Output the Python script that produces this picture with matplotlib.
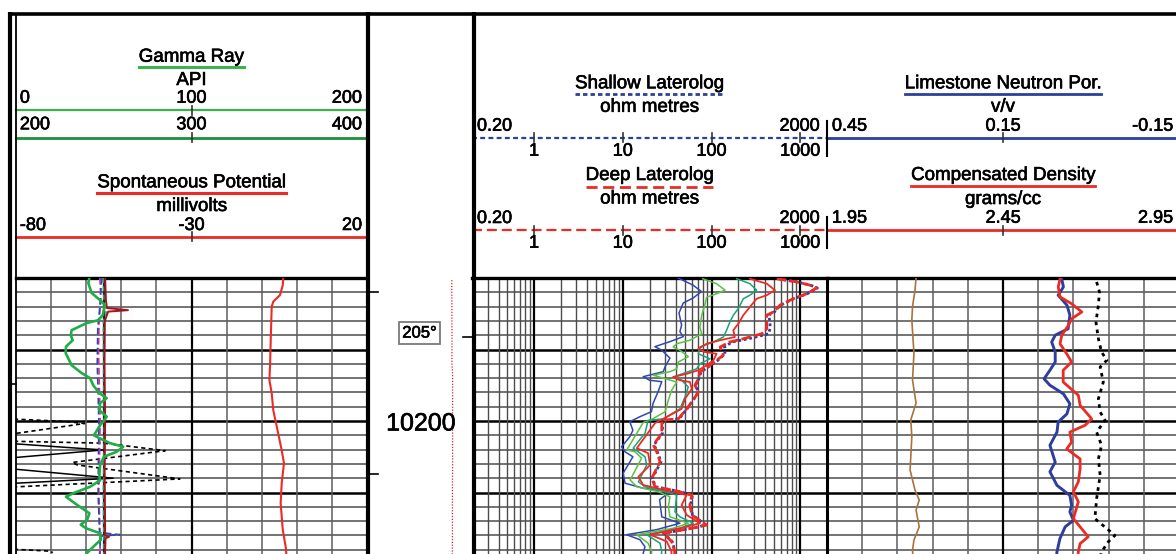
import numpy as np
import matplotlib
matplotlib.use("Agg")
import matplotlib.pyplot as plt
import matplotlib.patheffects as pe
from matplotlib.transforms import blended_transform_factory as blend

plt.rcParams['font.family'] = ['Liberation Sans', 'DejaVu Sans']

# ------------------------------------------------------------------ depth range
TOP_DEPTH = 10180.0
BASE_DEPTH = 10220.0
DEPTH_LABELS = [10200]
DEPTH_MARKS_LEFT = [10182.0, 10207.4]
DEPTH_MARKS_RIGHT = [10188.3]
EDGE_MARKS = [10194.8]

# ------------------------------------------------------------------ track scales
GR_SCALE = [0, 100, 200]
GR_SCALE_2 = [200, 300, 400]
SP_SCALE = [-80, -30, 20]
RES_SCALE = [0.2, 2000]
RES_TICKS = [1, 10, 100, 1000]
NPHI_SCALE = [0.45, 0.15, -0.15]
RHOB_SCALE = [1.95, 2.45, 2.95]
PEF_SCALE = [0, 10]
DRHO_SCALE = [-0.75, 0.25]
TEMP_SCALE = [120, 225]

TEMP_LABEL_DEPTH = 10187.7
TEMP_LABEL = 205

# ------------------------------------------------------------------ curves (depth ft, value)
GR = np.array([
    (10180.0, 41.8), (10180.7, 41.2), (10182.1, 43.1), (10183.1, 47.9), (10183.8, 50.7),
    (10185.2, 49.4), (10185.9, 46.9), (10186.3, 40.3), (10187.3, 31.7), (10188.0, 31.2),
    (10188.7, 32.3), (10189.6, 28.5), (10190.5, 28.3), (10192.2, 31.7), (10193.3, 37.4),
    (10194.0, 42.2), (10195.0, 44.0), (10196.1, 47.5), (10196.8, 51.7), (10197.5, 47.9),
    (10198.5, 47.5), (10199.4, 51.7), (10200.6, 47.9), (10202.0, 44.4), (10202.4, 47.5),
    (10203.1, 53.6), (10203.6, 61.1), (10204.3, 57.4), (10205.0, 50.1), (10206.2, 47.9),
    (10207.6, 47.5), (10208.3, 47.9), (10209.2, 42.2), (10210.1, 32.6), (10210.6, 28.5),
    (10211.7, 34.6), (10212.9, 41.8), (10213.8, 40.6), (10214.5, 36.9), (10215.0, 39.9),
    (10215.7, 47.9), (10216.6, 48.3), (10217.6, 44.0), (10218.5, 40.3), (10220.0, 36.0)])

SP = np.array([
    (10180.0, -3.85), (10181.0, -4.0), (10182.4, -4.8), (10183.3, -6.7), (10184.0, -7.15),
    (10188.2, -7.4), (10191.9, -7.6), (10194.3, -7.8), (10196.1, -7.15), (10198.5, -6.7),
    (10200.8, -5.7), (10204.1, -4.3), (10205.9, -3.65), (10208.7, -4.3), (10211.5, -4.6),
    (10215.2, -4.0), (10217.8, -3.1), (10220.0, -2.8)])

BIT_SIZE = 50.0
CALI_A = np.array([
    (10180, 47.8), (10183, 48.3), (10186, 47.4), (10190, 47.0), (10195, 47.5),
    (10200, 48.0), (10205, 47.6), (10210, 47.2), (10215, 47.8), (10220, 48.0)])
CALI_B = np.array([
    (10180, 48.8), (10184, 47.8), (10187, 46.6), (10192, 46.3), (10196, 46.8),
    (10200, 47.2), (10205, 47.0), (10210, 46.8), (10215.6, 47.6), (10215.9, 59.3),
    (10216.1, 48.2), (10220, 47.4)])
CALI_C = np.array([
    (10180, 50.8), (10183, 51.2), (10184.2, 51.8), (10184.5, 63.8), (10184.7, 52.5),
    (10186, 50.6), (10192, 50.4), (10200, 50.8), (10207, 50.5), (10216.0, 50.8),
    (10216.2, 53.0), (10216.4, 51.0), (10220, 50.6)])
CALI_D = np.array([
    (10180, 49.6), (10184, 50.3), (10185, 51.5), (10186, 49.8), (10195, 50.0),
    (10200, 50.4), (10210, 49.8), (10220, 50.2)])

# wrapped back-up traces in the gamma ray track
TRACE_A = np.array([
    (10199.6, -20), (10199.75, 0), (10199.9, 14), (10200.1, 30), (10200.35, 39),
    (10201.7, 1), (10201.9, -30), (10202.7, -30), (10202.85, 1), (10203.1, 50),
    (10204.15, 85), (10205.8, 32), (10206.15, 35), (10208.1, 93.4), (10209.2, 1),
    (10209.4, -30), (np.nan, np.nan), (10217.8, -20), (10217.95, 0), (10218.2, 19),
    (10218.4, 21)])
TRACE_B = np.array([
    (10202.9, -30), (10203.2, 0), (10204.05, 49.6), (10205.1, 0), (10205.4, -30),
    (10206.5, -30), (10206.75, 0), (10208.0, 55.4), (10208.7, 0), (10209.0, -30)])

TEMP = np.array([
    (10180.3, 204.8), (10186.0, 204.9), (TEMP_LABEL_DEPTH, 205.0), (10192.0, 204.9),
    (10193.5, 205.6), (10205.0, 205.6), (10212.0, 205.4), (10220.0, 205.4)])

RES_A = np.array([
    (10180.0, 42), (10181.0, 62), (10181.9, 77), (10182.8, 62), (10183.5, 48),
    (10184.9, 43), (10186.6, 46), (10187.5, 44), (10188.2, 48), (10188.9, 34),
    (10189.6, 23), (10190.1, 27.5), (10191.2, 34), (10192.4, 30), (10193.1, 28.6),
    (10193.8, 17), (10194.3, 20), (10194.5, 27.5), (10195.9, 25), (10197.5, 22),
    (10198.7, 21), (10199.4, 15.6), (10200.1, 12), (10201.3, 13), (10202.2, 12),
    (10203.6, 9.7), (10204.3, 10.6), (10205.0, 13), (10207.3, 10.1), (10208.7, 10.6),
    (10209.4, 17), (10209.9, 34), (10211.0, 26), (10213.4, 27.5), (10214.3, 44),
    (10215.2, 24), (10215.9, 11), (10216.6, 15.6), (10217.6, 17.8), (10218.5, 17),
    (10220.0, 16)])
RES_B = np.array([
    (10180.1, 79.5), (10180.8, 114), (10181.7, 142), (10182.2, 114), (10182.7, 88),
    (10183.8, 84), (10185.2, 77.5), (10186.9, 74), (10187.8, 77.5), (10188.7, 57),
    (10189.2, 40.5), (10189.65, 37), (10190.1, 44), (10191.0, 54.7), (10191.75, 42.2),
    (10192.7, 40.5), (10193.1, 34), (10193.6, 22.1), (10194.0, 28.6), (10194.55, 40.5),
    (10195.7, 35.5), (10197.1, 32.6), (10198.7, 30.0), (10199.9, 20.3), (10200.2, 17),
    (10201.7, 14.4), (10204.05, 11.1), (10204.3, 13.7), (10205.2, 16.3), (10208.25, 12.1),
    (10209.2, 14.4), (10209.9, 25.2), (10210.6, 34), (10212.0, 32.6), (10213.4, 34),
    (10214.3, 54.7), (10215.0, 37), (10215.9, 14.4), (10217.1, 19.3), (10218.3, 21.2),
    (10220.0, 20)])
RES_C = np.array([
    (10180.1, 192), (10180.8, 271), (10181.7, 322), (10182.4, 271), (10182.9, 228),
    (10184.3, 200), (10185.2, 176), (10186.15, 161), (10187.3, 148), (10188.25, 136),
    (10188.95, 105), (10189.65, 74), (10190.6, 71), (10191.3, 96), (10192.0, 74),
    (10192.7, 68), (10193.1, 54.7), (10193.85, 37), (10194.3, 46), (10195.25, 54.7),
    (10196.65, 50.2), (10198.3, 44), (10199.7, 28.6), (10199.9, 19.3), (10201.7, 17.8),
    (10203.8, 13.1), (10205.0, 17.8), (10206.15, 18.6), (10208.5, 15.0), (10209.2, 17.8),
    (10209.9, 30), (10210.35, 40.5), (10212.7, 38.7), (10213.4, 44), (10214.3, 62.3),
    (10215.0, 44), (10215.9, 18.6), (10217.1, 26.3), (10218.3, 27.5), (10220.0, 26)])
RES_D = np.array([
    (10180.1, 271), (10180.8, 419), (10181.7, 519), (10182.4, 419), (10182.9, 322),
    (10184.05, 271), (10185.2, 228), (10186.4, 200), (10187.3, 176), (10188.25, 183),
    (10188.7, 125), (10189.2, 88), (10189.9, 71), (10190.35, 84), (10190.6, 114),
    (10191.5, 105), (10192.2, 88), (10192.9, 71), (10193.4, 52.5), (10193.85, 37),
    (10194.3, 44), (10194.55, 57), (10195.5, 60), (10196.9, 50.2), (10198.3, 46),
    (10199.7, 28.6), (10200.3, 23.1), (10201.25, 20.3), (10203.8, 14.4), (10204.5, 19.3),
    (10206.15, 20.3), (10207.8, 15.0), (10208.95, 17.0), (10209.8, 32.6), (10210.35, 52.5),
    (10211.75, 46), (10213.15, 52.5), (10214.3, 74), (10214.8, 52.5), (10215.9, 20.3),
    (10216.85, 31.3), (10218.3, 35.5), (10220.0, 34)])
LLD = np.array([
    (10180.1, 542), (10180.55, 912), (10181.0, 1285), (10181.4, 1529), (10182.2, 1182),
    (10182.9, 834), (10183.8, 590), (10184.75, 497), (10185.2, 419), (10187.1, 419),
    (10187.8, 368), (10188.5, 228), (10188.95, 161), (10189.65, 125), (10190.8, 136),
    (10191.5, 114), (10192.2, 96), (10193.15, 74), (10194.1, 71), (10195.0, 65),
    (10195.95, 71), (10197.1, 62), (10198.3, 52.5), (10199.7, 42.2), (10199.9, 27.5),
    (10201.7, 27.5), (10203.35, 22.1), (10204.3, 24.1), (10205.7, 26.3), (10208.0, 21.2),
    (10209.2, 23.1), (10209.8, 40.5), (10210.35, 60), (10211.75, 57), (10213.15, 60),
    (10214.55, 88), (10215.0, 60), (10215.7, 28.6), (10216.85, 35.5), (10218.3, 38.7),
    (10220.0, 37)])
LLS = np.array([
    (10180.1, 560), (10180.55, 920), (10181.0, 1300), (10181.4, 1560), (10182.2, 1200),
    (10182.9, 840), (10183.8, 600), (10184.75, 510), (10185.2, 440), (10186.2, 456),
    (10187.1, 456), (10187.8, 440), (10188.5, 260), (10188.95, 170), (10189.65, 140),
    (10190.6, 142), (10191.5, 118), (10192.2, 98), (10193.15, 76), (10194.1, 72),
    (10195.0, 66), (10195.95, 71), (10197.1, 62), (10198.3, 53), (10199.7, 43),
    (10199.9, 28), (10201.7, 28), (10203.35, 22.5), (10204.3, 24.5), (10205.7, 27),
    (10208.0, 21.5), (10209.2, 23.5), (10209.8, 41), (10210.35, 61), (10211.75, 58),
    (10213.15, 61), (10214.55, 86), (10215.0, 60), (10215.7, 29), (10216.85, 36),
    (10218.3, 39), (10220.0, 38)])

NPHI = np.array([
    (10180.1, 0.050), (10181.25, 0.047), (10182.4, 0.056), (10183.8, 0.041), (10185.2, 0.036),
    (10187.1, 0.039), (10188.0, 0.061), (10188.95, 0.067), (10190.35, 0.061), (10191.75, 0.061),
    (10192.9, 0.070), (10194.1, 0.080), (10195.0, 0.070), (10196.2, 0.047), (10197.6, 0.036),
    (10199.0, 0.041), (10200.15, 0.056), (10201.55, 0.058), (10203.4, 0.070), (10205.75, 0.061),
    (10207.1, 0.070), (10209.0, 0.058), (10210.4, 0.036), (10211.8, 0.033), (10212.7, 0.036),
    (10213.9, 0.030), (10214.8, 0.044), (10216.45, 0.053), (10218.3, 0.058), (10220.0, 0.060)])
RHOB = np.array([
    (10180.1, 2.612), (10181.25, 2.607), (10182.65, 2.612), (10183.6, 2.645), (10184.75, 2.674),
    (10185.7, 2.645), (10186.6, 2.636), (10188.0, 2.617), (10189.2, 2.612), (10190.6, 2.631),
    (10191.75, 2.645), (10192.9, 2.621), (10194.55, 2.621), (10196.4, 2.664), (10197.8, 2.669),
    (10199.7, 2.702), (10200.6, 2.683), (10201.55, 2.640), (10202.95, 2.645), (10203.9, 2.631),
    (10205.3, 2.669), (10206.7, 2.669), (10208.5, 2.664), (10209.9, 2.650), (10211.3, 2.664),
    (10213.65, 2.650), (10216.2, 2.692), (10217.15, 2.669), (10218.3, 2.664), (10220.0, 2.660)])
PEF = np.array([
    (10180.0, 2.53), (10181.7, 2.50), (10184.0, 2.43), (10185.9, 2.41), (10190.5, 2.47),
    (10194.3, 2.43), (10197.5, 2.53), (10199.85, 2.38), (10202.2, 2.41), (10206.85, 2.36),
    (10209.65, 2.50), (10211.05, 2.62), (10212.45, 2.53), (10214.8, 2.62), (10216.65, 2.47),
    (10218.05, 2.43), (10220.0, 2.45)])
DRHO = np.array([
    (10180.55, 0.016), (10181.95, 0.024), (10183.8, 0.021), (10186.15, 0.014), (10188.5, 0.021),
    (10190.35, 0.030), (10191.5, 0.045), (10192.45, 0.026), (10194.55, 0.035), (10196.9, 0.021),
    (10198.75, 0.026), (10199.9, 0.040), (10201.55, 0.016), (10203.4, 0.030), (10205.3, 0.021),
    (10207.6, 0.026), (10210.85, 0.016), (10213.65, 0.011), (10215.05, 0.045), (10216.0, 0.068),
    (10216.9, 0.049), (10218.3, 0.030), (10220.0, 0.020)])

# ------------------------------------------------------------------ page layout (pixels)
W, H = 1176, 554
FT_PX = 7.15
GRID_TOP = 278
GRID_BOTTOM = GRID_TOP + (BASE_DEPTH - TOP_DEPTH) * FT_PX
HEAD_TOP = 13
GR_X = (16, 367)
DEP_X = (367, 472)
RES_X = (472, 827)
POR_X = (827, 1179)

TITLE_FS = 13.5
NUM_FS = 13
GREEN = '#3cb44b'
DKGREEN = '#1f8f3a'
RED = '#ee2a24'
BLUE = '#2d3e9c'
MINOR = '#4d4d4d'
TEXT_FX = [pe.withStroke(linewidth=0.45, foreground='black')]

fig = plt.figure(figsize=(W / 100, H / 100), dpi=100)
renderer = fig.canvas.get_renderer()


def rect(x0, y0, x1, y1):
    return [x0 / W, 1 - y1 / H, (x1 - x0) / W, (y1 - y0) / H]


def track(xr, xlim, xscale='linear', z=1):
    ax = fig.add_axes(rect(xr[0], GRID_TOP, xr[1], GRID_BOTTOM), zorder=z)
    ax.set_xscale(xscale)
    ax.set_xlim(*xlim)
    ax.set_ylim(BASE_DEPTH, TOP_DEPTH)
    ax.set_xticks([])
    ax.set_yticks([])
    ax.minorticks_off()
    for s in ax.spines.values():
        s.set_visible(False)
    return ax


def overlay(base, xlim, xscale='linear'):
    ax = fig.add_axes(base.get_position(), zorder=base.get_zorder() + 1)
    ax.set_xscale(xscale)
    ax.set_xlim(*xlim)
    ax.set_ylim(BASE_DEPTH, TOP_DEPTH)
    ax.axis('off')
    return ax


def depth_grid(ax):
    for d in np.arange(TOP_DEPTH, BASE_DEPTH + 0.1, 2):
        major = int(round(d)) % 10 == 0
        ax.axhline(d, color='black' if major else MINOR,
                   lw=1.8 if major else 1.1, zorder=0.5)
    ax.spines['top'].set_visible(True)
    ax.spines['top'].set_linewidth(2.4)


def linear_grid(ax, lo, hi, n=10):
    for i, x in enumerate(np.linspace(lo, hi, n + 1)[1:-1], 1):
        heavy = i == n // 2
        ax.axvline(x, color='black' if heavy else '#5e5e5e',
                   lw=1.6 if heavy else 1.1, zorder=0.5)


def log_grid(ax, lo, hi):
    for dec in 10.0 ** np.arange(-1, 4):
        for m in range(1, 10):
            v = m * dec
            if lo < v < hi:
                ax.axvline(v, color='black' if m == 1 else MINOR,
                           lw=1.6 if m == 1 else 1.0, zorder=0.5)


def curve(ax, data, **kw):
    ax.plot(data[:, 1], data[:, 0], solid_joinstyle='round', **kw)


# ------------------------------------------------------------------ gamma ray / SP track
ax_gr = track(GR_X, (GR_SCALE[0], GR_SCALE[-1]))
depth_grid(ax_gr)
linear_grid(ax_gr, GR_SCALE[0], GR_SCALE[-1])
curve(ax_gr, TRACE_A, color='black', lw=1.2, ls=(0, (2.5, 2)), zorder=2)
curve(ax_gr, TRACE_B, color='black', lw=1.1, zorder=2)
ax_gr.axvline(BIT_SIZE, color='#222222', lw=1.6, zorder=2)
curve(ax_gr, CALI_A, color='#e0389a', lw=1.2, ls=(0, (4, 2)), zorder=3)
curve(ax_gr, CALI_B, color='#3048b0', lw=1.2, ls=(0, (4, 2)), zorder=3)
curve(ax_gr, CALI_D, color='#1aa37a', lw=1.2, ls=(0, (3, 2)), zorder=3)
curve(ax_gr, CALI_C, color='#a3141e', lw=1.4, zorder=3)
curve(ax_gr, GR, color='#1fae45', lw=1.9, zorder=4)

ax_sp = overlay(ax_gr, (SP_SCALE[0], SP_SCALE[-1]))
curve(ax_sp, SP, color=RED, lw=1.5)

# ------------------------------------------------------------------ depth track
ax_dep = track(DEP_X, tuple(TEMP_SCALE))
curve(ax_dep, TEMP, color='#d02a2a', lw=0.9, ls=(0, (1, 1.3)))
tr_dep = blend(ax_dep.transAxes, ax_dep.transData)
for d in DEPTH_LABELS:
    ax_dep.text(0.514, d, f"{d}", transform=tr_dep, ha='center', va='center_baseline',
                fontsize=18, path_effects=TEXT_FX)
for d in DEPTH_MARKS_LEFT:
    ax_dep.plot([0, 0.105], [d, d], transform=tr_dep, color='black', lw=1.2)
for d in DEPTH_MARKS_RIGHT:
    ax_dep.plot([0.914, 1.0], [d, d], transform=tr_dep, color='black', lw=1.2)
ax_dep.text(0.5, TEMP_LABEL_DEPTH, f"{TEMP_LABEL}°", transform=tr_dep, ha='center',
            va='center', fontsize=12, path_effects=TEXT_FX,
            bbox=dict(boxstyle='square,pad=0.2', fc='white', ec='#7a7a7a', lw=1.3))

# ------------------------------------------------------------------ resistivity track
ax_res = track(RES_X, tuple(RES_SCALE), xscale='log')
depth_grid(ax_res)
log_grid(ax_res, *RES_SCALE)
curve(ax_res, RES_A, color='#3048b0', lw=1.1, zorder=3)
curve(ax_res, RES_B, color='#5cc046', lw=1.1, zorder=3)
curve(ax_res, RES_C, color='#1aa37a', lw=1.1, zorder=3)
curve(ax_res, RES_D, color=RED, lw=1.3, zorder=3)
curve(ax_res, LLS, color=BLUE, lw=2.0, ls=(0, (1, 1)), zorder=4)
curve(ax_res, LLD, color=RED, lw=2.0, ls=(0, (3.5, 1.2)), zorder=5)

# ------------------------------------------------------------------ porosity track
ax_por = track(POR_X, (NPHI_SCALE[0], NPHI_SCALE[-1]))
depth_grid(ax_por)
linear_grid(ax_por, NPHI_SCALE[0], NPHI_SCALE[-1])
ax_por.spines['left'].set_visible(True)
ax_por.spines['left'].set_linewidth(2.2)
ax_pef = overlay(ax_por, tuple(PEF_SCALE))
curve(ax_pef, PEF, color='#a8733c', lw=1.2)
ax_drho = overlay(ax_pef, tuple(DRHO_SCALE))
curve(ax_drho, DRHO, color='black', lw=2.0, ls=(0, (1.3, 1.6)))
ax_nphi = overlay(ax_drho, (NPHI_SCALE[0], NPHI_SCALE[-1]))
curve(ax_nphi, NPHI, color=BLUE, lw=2.1)
ax_rhob = overlay(ax_nphi, (RHOB_SCALE[0], RHOB_SCALE[-1]))
curve(ax_rhob, RHOB, color=RED, lw=2.0)


# ------------------------------------------------------------------ headers
def header(xr, xlim=(0, 1), xscale='linear'):
    ax = fig.add_axes(rect(xr[0], HEAD_TOP, xr[1], GRID_TOP), zorder=6)
    ax.set_xscale(xscale)
    ax.set_xlim(*xlim)
    ax.set_ylim(GRID_TOP, HEAD_TOP)
    ax.axis('off')
    return ax


def title(ax, base_y, text, line_y, color, lw=2.2, ls='-'):
    tr = blend(ax.transAxes, ax.transData)
    t = ax.text(0.5, base_y, text, transform=tr, ha='center', va='baseline',
                fontsize=TITLE_FS, path_effects=TEXT_FX)
    bb = t.get_window_extent(renderer)
    x0, x1 = ax.transAxes.inverted().transform([[bb.x0, 0], [bb.x1, 0]])[:, 0]
    ax.plot([x0, x1], [line_y, line_y], transform=tr, color=color, lw=lw, ls=ls,
            clip_on=False)


def sub(ax, base_y, text):
    ax.text(0.5, base_y, text, transform=blend(ax.transAxes, ax.transData),
            ha='center', va='baseline', fontsize=TITLE_FS, path_effects=TEXT_FX)


def end_labels(ax, base_y, labels, pad_l, pad_r):
    tr = blend(ax.transAxes, ax.transData)
    kw = dict(transform=tr, va='baseline', fontsize=NUM_FS, path_effects=TEXT_FX)
    ax.text(pad_l, base_y, labels[0], ha='left', **kw)
    if len(labels) == 3:
        ax.text(0.5, base_y, labels[1], ha='center', **kw)
    ax.text(1 - pad_r, base_y, labels[-1], ha='right', **kw)


def scale_line(ax, y, color, lw, ls='-', tick_frac=()):
    tr = blend(ax.transAxes, ax.transData)
    ax.plot([0, 1], [y, y], transform=tr, color=color, lw=lw, ls=ls, clip_on=False)
    for f in tick_frac:
        ax.plot([f, f], [y - 4.5, y + 4.5], transform=tr, color='#333333', lw=1.2)


def frac(scale, v):
    return (v - scale[0]) / (scale[-1] - scale[0])


# gamma ray / SP header
hg = header(GR_X)
title(hg, 61.7, 'Gamma Ray', 66.7, GREEN)
sub(hg, 85, 'API')
end_labels(hg, 102.7, [f"{v}" for v in GR_SCALE], 0.011, 0.014)
scale_line(hg, 110, GREEN, 1.6, tick_frac=[frac(GR_SCALE, GR_SCALE[1])])
end_labels(hg, 129.3, [f"{v}" for v in GR_SCALE_2], 0.011, 0.014)
scale_line(hg, 137.5, DKGREEN, 2.0, tick_frac=[frac(GR_SCALE_2, GR_SCALE_2[1])])
title(hg, 187.3, 'Spontaneous Potential', 192.5, RED)
sub(hg, 211, 'millivolts')
end_labels(hg, 230, [f"{v}" for v in SP_SCALE], 0.011, 0.014)
scale_line(hg, 236.5, RED, 2.0, tick_frac=[frac(SP_SCALE, SP_SCALE[1])])

# resistivity header
hr = header(RES_X, tuple(RES_SCALE), 'log')
res_ends = [f"{RES_SCALE[0]:.2f}", f"{RES_SCALE[1]:g}"]
for base_y, name, uline, col, uls, lls, line_y, tick_y in [
        (88.3, 'Shallow Laterolog', 94, BLUE, (0, (1.6, 1.1)), (0, (2.2, 1.5)), 137.7, 155.7),
        (180.0, 'Deep Laterolog', 186.5, RED, (0, (4, 2)), (0, (4.5, 2.2)), 230.0, 247.7)]:
    title(hr, base_y, name, uline, col, lw=2.0, ls=uls)
    sub(hr, base_y + 23.5, 'ohm metres')
    end_labels(hr, line_y - 7, res_ends, 0.014, 0.02)
    scale_line(hr, line_y, col, 1.6, ls=lls)
    for v in RES_TICKS:
        hr.plot([v, v], [line_y - 4.5, line_y + 4.5], color='#333333', lw=1.2)
        hr.text(v, tick_y, f"{v}", ha='center', va='baseline', fontsize=NUM_FS,
                path_effects=TEXT_FX)

# porosity header
hp = header(POR_X)
title(hp, 88.3, 'Limestone Neutron Por.', 93.5, BLUE, lw=2.0)
sub(hp, 111.7, 'v/v')
end_labels(hp, 130.7, [f"{v:.2f}" for v in NPHI_SCALE], 0.014, 0.017)
scale_line(hp, 137.7, BLUE, 2.0, tick_frac=[frac(NPHI_SCALE, NPHI_SCALE[1])])
title(hp, 180.0, 'Compensated Density', 186.0, RED, lw=2.0)
sub(hp, 204, 'grams/cc')
end_labels(hp, 222.7, [f"{v:.2f}" for v in RHOB_SCALE], 0.014, 0.017)
scale_line(hp, 230.0, RED, 2.0, tick_frac=[frac(RHOB_SCALE, RHOB_SCALE[1])])

# ------------------------------------------------------------------ page frame
frame = fig.add_axes([0, 0, 1, 1], zorder=10)
frame.set_xlim(0, W)
frame.set_ylim(H, 0)
frame.axis('off')
frame.plot([8, W], [13.6, 13.6], color='black', lw=2.6, solid_capstyle='butt')
frame.plot([9.8, 9.8], [12.3, H], color='black', lw=3.0, solid_capstyle='butt')
frame.plot([15.6, 15.6], [13, H], color='black', lw=1.3, solid_capstyle='butt')
for x in (DEP_X[0] + 0.5, RES_X[0] + 1.5):
    frame.plot([x, x], [12.3, H], color='black', lw=3.0, solid_capstyle='butt')
for y0, y1 in ((121, 156), (217, 248)):
    frame.plot([POR_X[0], POR_X[0]], [y0, y1], color='black', lw=1.5)
for d in EDGE_MARKS:
    y = GRID_TOP + (d - TOP_DEPTH) * FT_PX
    frame.plot([9, 16], [y, y], color='black', lw=1.2)

fig.savefig('out.png', dpi=100)
